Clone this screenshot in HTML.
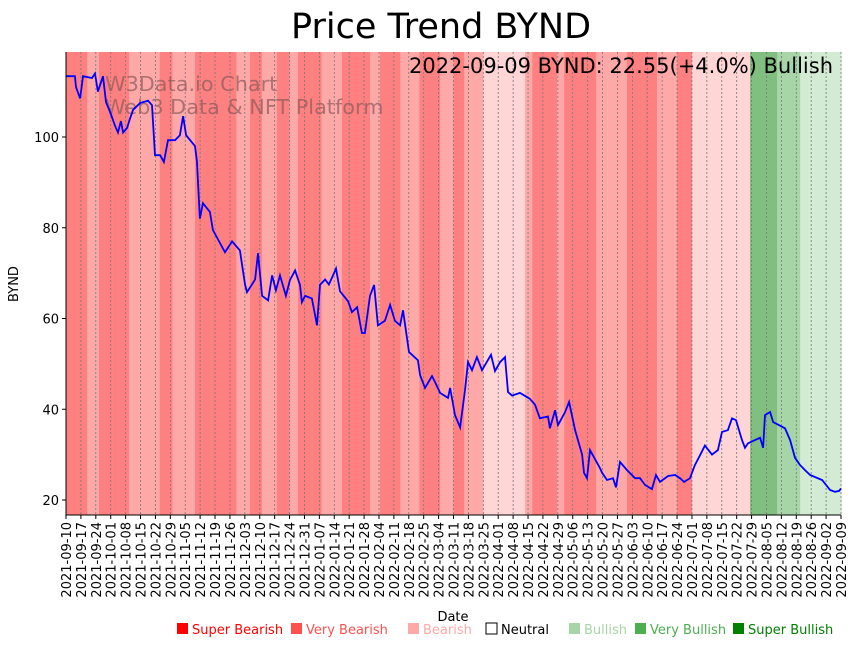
<!DOCTYPE html>
<html><head><meta charset="utf-8"><style>
body{margin:0;background:#fff;font-family:"Liberation Sans","DejaVu Sans",sans-serif}
svg text{font-family:"DejaVu Sans","Liberation Sans",sans-serif}
</style></head><body>
<svg id="c" width="857" height="646" xmlns="http://www.w3.org/2000/svg">
<text x="441" y="38" font-size="35" text-anchor="middle">Price Trend BYND</text>
<g id="bands"></g><g id="grid"></g>
<text x="105" y="91" font-size="20.8" fill="#8a5a5a" fill-opacity="0.7">W3Data.io Chart</text>
<text x="105" y="114" font-size="20.8" fill="#8a5a5a" fill-opacity="0.7">Web3 Data &amp; NFT Platform</text>
<g id="line"></g><g id="axes"></g>
<text x="833" y="73" font-size="21" text-anchor="end">2022-09-09 BYND: 22.55(+4.0%) Bullish</text>
<text x="18" y="284" font-size="13" text-anchor="middle" transform="rotate(-90 18 284)">BYND</text>
<text x="453" y="621" font-size="13" text-anchor="middle">Date</text>
<g id="legend" font-size="13"></g>
</svg>
<script>
const NS="http://www.w3.org/2000/svg";
const days=[0,4.2,4.7,6.6,8,12.2,13.6,15,17.4,18.8,20.7,23,24.4,25.8,26.8,28.7,30,31.5,34.8,38.5,40.4,41.8,44.2,46,47.9,51.2,53.5,55,56.4,60.6,61.5,62.9,64.3,67.6,69,74.7,78,81.7,84.1,85,88.8,90.2,92.1,94.9,96.8,98.6,100.5,103.3,105.2,107.6,109.9,110.8,112.3,115.5,117.9,119.3,121.7,123.5,125.4,126.8,128.7,132.5,134.3,136.7,139,140.4,142.8,144.7,146.5,149.8,152.2,154.5,156.9,158.3,161.1,165.3,166.3,168.6,171.9,173.3,175.7,179.4,180.4,182.7,185.1,187.4,188.8,190.7,193,195.4,199.6,201.5,203.9,206.2,207.6,209.5,213.2,217.9,220.3,222.6,226.4,227.3,229.7,231.1,234.4,236.3,239.1,242.4,243.3,244.7,246.1,250.8,251.8,254.1,256.9,258.3,260.2,263.5,265.8,267.3,269.6,272,275.2,277.1,279,282.8,286.1,288.4,290.3,293.1,295.4,297.8,300.1,303.4,306.2,308.1,310.9,312.8,314.7,317.5,318.9,320.3,323.6,326,327.4,328.3,330.7,332.1,337.7,340.1,342.4,344.8,347.1,349.5,355.1,358.9,361.2,363.1,364];
const prices=[113.4,113.4,111,108.5,113.4,113,114,110,113.4,107.7,105.5,102.5,101,103.5,101,102,104,106,107.5,108,107,96,96,94.5,99.3,99.3,100.4,104.6,100.4,98,94.7,82,85.4,83.5,79.5,74.6,77,75,67.4,65.8,68.6,74.4,65,64,69.5,66.2,69.5,65,68.5,70.6,67.4,63.6,65,64.4,58.5,67.4,68.6,67.5,69.5,71,66,63.8,61.4,62.5,56.8,56.8,65,67.4,58.5,59.5,63,59.5,58.5,61.8,52.6,50.8,47.5,44.7,47.3,46,43.6,42.5,44.7,38.7,36,44.2,50.4,48.6,51.5,48.6,52,48.4,50.4,51.5,43.8,43,43.6,42.3,41,38,38.4,35.8,39.8,36.5,39.4,41.6,35.4,30,26,24.8,31,27,26,24.4,24.8,22.8,28.4,26.6,25.5,24.8,24.8,23.3,22.4,25.5,24,25.3,25.5,24.8,24,24.8,27.7,29.9,32,30,31,35,35.4,38,37.6,33.2,31.5,32.5,33.2,33.7,31.5,38.7,39.4,37.2,35.8,33.2,29.3,27.7,26.6,25.5,24.4,22.2,21.8,22,22.55];
const bandStart=[0,10,15.5,29.6,44,50,60.6,80,86.4,92,99,105,109,120,129.6,142.8,147.5,157,166,175.7,182,187,196,215.6,219,230.6,234,249,263.5,277.6,287,294,321.3,334,344.8];
const bandEnd=[10,15.5,29.6,44,50,60.6,80,86.4,92,99,105,109,120,129.6,142.8,147.5,157,166,175.7,182,187,196,215.6,219,230.6,234,249,263.5,277.6,287,294,321.3,334,344.8,364];
const bandLevel=[-2,-1,-2,-1,-2,-1,-2,-1,-2,-1,-2,-1,-2,-1,-2,-1,-2,-1,-2,-1,-2,-1,0,-1,-2,-1,-2,-1,-2,-1,-2,0,3,2,1];
const yTicks=[20,40,60,80,100];
const x0=66,x1=841,yTop=52,yBot=515,totalDays=364;
const X=d=>x0+(x1-x0)*d/totalDays;
const Y=v=>500-(v-20)*4.5375;
function mk(t,a,p){const e=document.createElementNS(NS,t);for(const k in a)e.setAttribute(k,a[k]);p.appendChild(e);return e;}
const levelColor={"-2":"#ff8080","-1":"#ffa8a8","0":"#ffd5d5","1":"#d3ead3","2":"#a8d5a8","3":"#80bf80"};
const bg=document.getElementById('bands');
bandStart.forEach((s,i)=>{
 const r=mk('rect',{x:X(s),y:yTop,width:X(bandEnd[i])-X(s)+0.5,height:yBot-yTop,fill:levelColor[bandLevel[i]]},bg);
 
 
});
const grid=document.getElementById('grid'),axes=document.getElementById('axes');
const start=new Date(Date.UTC(2021,8,10));
for(let w=0;w<=52;w++){
 const d=w*7,x=X(d);
 const g=mk('line',{x1:x,x2:x,y1:yTop,y2:yBot,stroke:'#777','stroke-width':0.8,'stroke-dasharray':'2,2'},grid);
 
 
 mk('line',{x1:x,x2:x,y1:yBot,y2:yBot+4,stroke:'#000'},axes);
 const dt=new Date(start.getTime()+d*864e5);
 const lab=dt.toISOString().slice(0,10);
 const t=mk('text',{x:x+5,y:yBot+7,'font-size':13,'text-anchor':'end',transform:`rotate(-90 ${x+5} ${yBot+7})`},axes);
 t.textContent=lab;
 
 
}
yTicks.forEach(v=>{
 const y=Y(v);
 mk('line',{x1:x0-4,x2:x0,y1:y,y2:y,stroke:'#000'},axes);
 const t=mk('text',{x:x0-7,y:y+5,'font-size':13,'text-anchor':'end'},axes);
 t.textContent=v;
 
 
});
mk('line',{x1:x0,x2:x0,y1:yTop,y2:yBot,stroke:'#000'},axes);
mk('line',{x1:x0,x2:x1,y1:yBot,y2:yBot,stroke:'#000'},axes);
const pts=days.map((d,i)=>X(d).toFixed(1)+','+Y(prices[i]).toFixed(1)).join(' ');
const pl=mk('polyline',{points:pts,fill:'none',stroke:'#0000ff','stroke-width':1.8},document.getElementById('line'));


const legNames=["Super Bearish","Very Bearish","Bearish","Neutral","Bullish","Very Bullish","Super Bullish"];
const legCols=["#ff0000","#ff5050","#ffa8a8","#ffffff","#a8d5a8","#4caf50","#008000"];
const legText=["#ff0000","#ff5050","#ffa8a8","#000000","#a8d5a8","#4caf50","#008000"];
const legX=[177,291,408,486,569,635,733];
const lg=document.getElementById('legend');
legNames.forEach((n,i)=>{
 const g=mk('g',{},lg);
 
 
 mk('rect',{x:legX[i],y:623,width:11,height:11,fill:legCols[i],stroke:i===3?'#000':'none'},g);
 const t=mk('text',{x:legX[i]+15,y:634,fill:legText[i]},g);
 t.textContent=n;
});
</script>
</body></html>
